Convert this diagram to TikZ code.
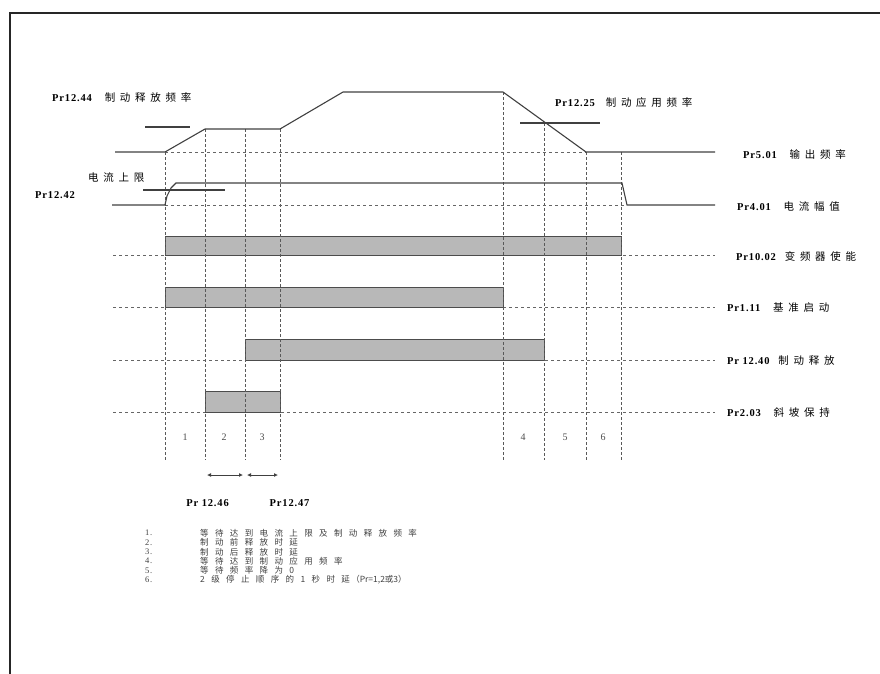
\documentclass[tikz,border=0pt]{standalone}
\usepackage{fontspec}
\setmainfont{Liberation Serif}[LetterSpace=8]
\newfontfamily\cjk[LetterSpace=45]{Noto Sans CJK SC}
\newfontfamily\cjkwide[LetterSpace=75]{Noto Sans CJK SC}
\newfontfamily\cjkplain{Noto Sans CJK SC}
\usetikzlibrary{arrows.meta,positioning}

\begin{document}
\begin{tikzpicture}[x=1pt, y=-1pt,
  trace/.style={draw=black!75, line width=1.1pt},
  guide/.style={draw=black!65, dash pattern=on 3pt off 2pt, line width=0.7pt},
  rowline/.style={draw=black!60, dash pattern=on 3pt off 3pt, line width=0.7pt},
  bar/.style={draw=black!70, fill=black!28, line width=0.9pt},
  sig/.style={anchor=west, inner sep=0pt, font=\fontsize{10.5}{12}\selectfont},
  num/.style={inner sep=0pt, font=\fontsize{10}{12}\selectfont, text=black!70},
  legend/.style={anchor=west, inner sep=0pt, font=\fontsize{8.5}{10}\selectfont, text=black!75},
  dim/.style={{Latex[length=4pt,width=4pt]}-{Latex[length=4pt,width=4pt]}, black!75, line width=0.8pt}
]
\useasboundingbox (0,0) rectangle (880,673);
% frame
\draw[line width=2.5pt, black!85] (10,700) -- (10,13) -- (900,13);

% row base lines and bars
\foreach \y in {255,307,360,412}
  \draw[rowline] (113,\y) -- (715,\y);
\draw[bar] (165,236) rectangle (621,255);
\draw[bar] (165,287) rectangle (503,307);
\draw[bar] (245,339) rectangle (544,360);
\draw[bar] (205,391) rectangle (280,412);

% time marks
\foreach \x/\y in {165/152,205/129,245/129,280/129,503/92,544/123,586/152,621/152}
  \draw[guide] (\x,\y) -- (\x,460);

% output frequency
\draw[rowline] (165,152) -- (586,152);
\draw[trace] (115,152) -- (165,152) -- (205,129) -- (280,129) -- (343,92)
  -- (503,92) -- (586,152) -- (715,152);
\draw[trace] (145,127) -- (190,127);
\draw[trace] (520,123) -- (600,123);

% current magnitude
\draw[rowline] (165,205) -- (626,205);
\draw[trace] (112,205) -- (165,205) -- (167,196) -- (171,188) -- (176,183)
  -- (622,183) -- (627,205) -- (715,205);
\draw[trace] (143,190) -- (225,190);

% labels
\node[sig] (f44) at (52,97) {\textbf{Pr12.44}\hspace{12pt}{\cjk 制动释放频率}};
\node[sig] (f25) at (555,102) {\textbf{Pr12.25}\hspace{10pt}{\cjk 制动应用频率}};
\node[sig] (ilim) at (88,178) {\cjk 电流上限};
\node[sig] (i42) at (35,195) {\textbf{Pr12.42}};
\node[sig] (r501) at (743,154) {\textbf{Pr5.01}\hspace{12pt}{\cjk 输出频率}};
\node[sig] (r401) at (737,207) {\textbf{Pr4.01}\hspace{12pt}{\cjk 电流幅值}};
\node[sig] (r1002) at (736,256) {\textbf{Pr10.02}\hspace{8pt}{\cjk 变频器使能}};
\node[sig] (r111) at (727,308) {\textbf{Pr1.11}\hspace{12pt}{\cjk 基准启动}};
\node[sig] (r1240) at (727,361) {\textbf{Pr 12.40}\hspace{8pt}{\cjk 制动释放}};
\node[sig] (r203) at (727,413) {\textbf{Pr2.03}\hspace{12pt}{\cjk 斜坡保持}};

% intervals
\foreach \n/\x in {1/185,2/224,3/262,4/523,5/565,6/603}
  \node[num] (n\n) at (\x,437) {\n};
\coordinate (d1) at (207,475);
\coordinate (d2) at (243,475);
\coordinate (d3) at (247,475);
\coordinate (d4) at (278,475);
\draw[dim] (d1) -- (d2);
\draw[dim] (d3) -- (d4);
\node[sig, anchor=center] (p46) at (208,503) {\textbf{Pr 12.46}};
\node[sig, anchor=center] (p47) at (290,503) {\textbf{Pr12.47}};

% legend
\foreach \n/\t [count=\i from 0] in {1/{等待达到电流上限及制动释放频率}, 2/{制动前释放时延},
    3/{制动后释放时延}, 4/{等待达到制动应用频率}, 5/{等待频率降为0},
    6/{2级停止顺序的1秒时延\,{\cjkplain （Pr=1,2或3）}}}{
  \node[legend] (k\n) at (145,533+9.4*\i) {\n.};
  \node[legend] (t\n) at (200,533+9.4*\i) {\cjkwide \t};
}
\end{tikzpicture}
\end{document}
